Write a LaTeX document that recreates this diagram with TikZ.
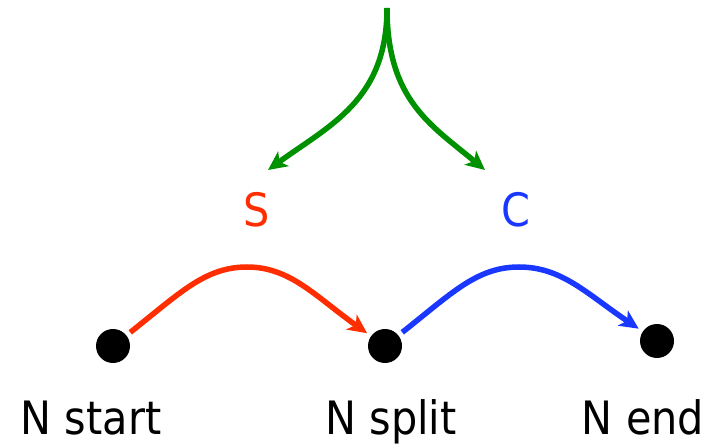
\documentclass[tikz,border=0pt]{standalone}
\usepackage{fontspec}
\setmainfont{DejaVu Sans Condensed}
\usetikzlibrary{arrows.meta}
\definecolor{cgreen}{RGB}{0,145,0}
\definecolor{cred}{RGB}{255,45,0}
\definecolor{cblue}{RGB}{25,55,255}
\tikzset{
  dot/.style={circle,fill=black,minimum size=34pt,inner sep=0pt,outer sep=5pt},
  lbl/.style={anchor=base,inner sep=0pt,font=\fontsize{46}{50}\selectfont},
  conn/.style={line width=5.5pt,-{Stealth[length=19pt,width=18pt,inset=5pt]}},
}
\begin{document}
\begin{tikzpicture}[x=1pt,y=-1pt]
\useasboundingbox (0,0) rectangle (712,446);
% dots
\node[dot] (ns) at (113,346) {};
\node[dot] (nsp) at (385,346) {};
\node[dot] (ne) at (657,341) {};
% labels
\node[lbl] (tstart) at (91,434) {N start};
\node[lbl] (tsplit) at (391,434) {N split};
\node[lbl] (tend) at (643,434) {N end};
\node[lbl,text=cred] (s) at (257,227) {S};
\node[lbl,text=cblue] (c) at (516,227) {C};
% green fork
\coordinate (top) at (387,8);
\coordinate (gl) at (268,170);
\coordinate (gr) at (485,170);
\draw[conn,cgreen] (top) .. controls (387,100) and (330,125) .. (gl);
\draw[conn,cgreen] (top) .. controls (387,100) and (431,125) .. (gr);
% red curve
\coordinate (rtop) at (247,267);
\draw[conn,cred] (ns) .. controls (180,293) and (205,267) .. (rtop)
   .. controls (290,267) and (315,296) .. (nsp);
% blue curve
\coordinate (btop) at (519,267);
\draw[conn,cblue] (nsp) .. controls (452,293) and (477,267) .. (btop)
   .. controls (562,267) and (587,294) .. (ne);
\end{tikzpicture}
\end{document}
